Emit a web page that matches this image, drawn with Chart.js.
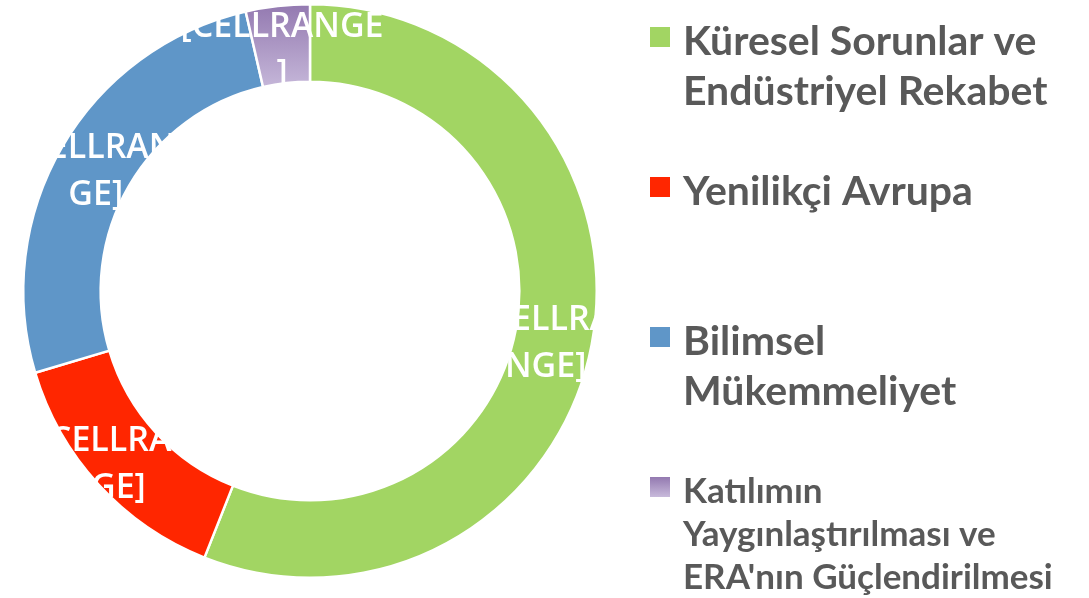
<!DOCTYPE html>
<html>
<head>
<meta charset="utf-8">
<script src="https://cdn.jsdelivr.net/npm/chart.js@4.4.1/dist/chart.umd.min.js"></script>
<style>
  html, body { margin: 0; padding: 0; background: #fff; }
  #wrap { width: 1089px; height: 598px; }
</style>
</head>
<body>
<div id="wrap"><canvas id="donut"></canvas></div>
<script>
// 凡例のカテゴリ（複数行）
const categories = [
  ['Küresel Sorunlar ve', 'Endüstriyel Rekabet'],
  ['Yenilikçi Avrupa'],
  ['Bilimsel', 'Mükemmeliyet'],
  ['Katılımın', 'Yaygınlaştırılması ve', "ERA'nın Güçlendirilmesi"]
];
// 各セグメントの割合
const values = [56.0, 14.4, 26.0, 3.6];
// データラベル（折り返し済み）
const dataLabels = [
  ['[CELLRA', 'NGE]'],
  ['[CELLRA', 'NGE]'],
  ['[CELLRAN', 'GE]'],
  ['[CELLRANGE', ']']
];
const colors = ['#a2d563', '#ff2600', '#5f96c8', 'purple'];
const textColor = '#595959';
// ラベルの横ずれ（見た目調整）
const labelShiftX = [-8, -22, 0, 0];

function purpleGradient(ctx, y0, y1) {
  const g = ctx.createLinearGradient(0, y0, 0, y1);
  g.addColorStop(0, '#9379b0');
  g.addColorStop(1, '#c8badb');
  return g;
}

// セグメント上のラベル
const labelPlugin = {
  id: 'cellLabels',
  afterDatasetsDraw(chart) {
    const ctx = chart.ctx;
    const meta = chart.getDatasetMeta(0);
    ctx.save();
    ctx.fillStyle = '#ffffff';
    ctx.font = '600 34px "Open Sans"';
    ctx.textAlign = 'center';
    ctx.textBaseline = 'middle';
    meta.data.forEach((arc, i) => {
      const p = arc.getCenterPoint();
      const lines = dataLabels[i];
      const lh = 47;
      lines.forEach((t, j) => {
        ctx.fillText(t, p.x + labelShiftX[i], p.y + 6 + (j - (lines.length - 1) / 2) * lh);
      });
    });
    ctx.restore();
  }
};

// 右側の凡例
const legendPlugin = {
  id: 'sideLegend',
  afterDraw(chart) {
    const ctx = chart.ctx;
    ctx.save();
    ctx.textBaseline = 'alphabetic';
    ctx.textAlign = 'left';
    categories.forEach((lines, i) => {
      const top = 27 + 150 * i;
      const small = lines.length > 2;
      ctx.fillStyle = i === 3 ? purpleGradient(ctx, top, top + 20) : colors[i];
      ctx.fillRect(650, top, 20, 20);
      ctx.fillStyle = textColor;
      ctx.font = small ? 'bold 35px Lato' : 'bold 41px Lato';
      const lh = small ? 43 : 50;
      const first = small ? top + 26 : top + 28;
      lines.forEach((t, j) => ctx.fillText(t, 683, first + j * lh));
    });
    ctx.restore();
  }
};

const ctx = document.getElementById('donut').getContext('2d');
new Chart(ctx, {
  type: 'doughnut',
  data: {
    labels: categories,
    datasets: [{
      data: values,
      backgroundColor: (c) => c.dataIndex === 3 ? purpleGradient(c.chart.ctx, 4, 92) : colors[c.dataIndex],
      borderColor: '#ffffff',
      borderWidth: 2.5
    }]
  },
  options: {
    responsive: true,
    maintainAspectRatio: false,
    animation: false,
    cutout: '73%',
    layout: { padding: { left: 22, right: 491, top: 3, bottom: 19 } },
    plugins: {
      legend: { display: false },
      tooltip: { enabled: false }
    }
  },
  plugins: [labelPlugin, legendPlugin]
});
</script>
</body>
</html>
